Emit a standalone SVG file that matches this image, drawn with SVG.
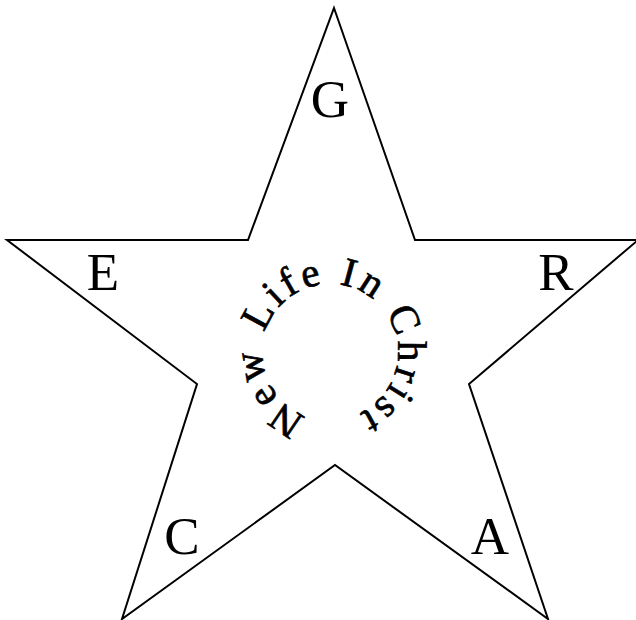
<svg xmlns="http://www.w3.org/2000/svg" width="636" height="620" viewBox="0 0 636 620">
<style>
.star{fill:none;stroke:#000;stroke-width:2;stroke-linejoin:miter}
.lbl{font-family:"Liberation Serif",serif;font-size:53px;fill:#000;text-anchor:middle}
.arc{font-family:"Liberation Serif",serif;font-size:41px;fill:#000;stroke:#000;stroke-width:0.7px;letter-spacing:3.6px}
</style>
<defs>
<path id="ring" d="M 306.7 415.9 A 68 68 0 1 1 353.3 415.9 A 68 68 0 0 1 306.7 415.9"/>
</defs>
<rect width="636" height="620" fill="#fff"/>
<g id="star">
<polygon class="star" points="334,8 415,240 638,240 469,384 548,619 335,465 122,619 197,384 7,240 248,240"/>
</g>
<g id="G"><text class="lbl" x="330" y="117">G</text></g>
<g id="E"><text class="lbl" x="103" y="290">E</text></g>
<g id="R"><text class="lbl" x="556" y="290">R</text></g>
<g id="C"><text class="lbl" x="182" y="554">C</text></g>
<g id="A"><text class="lbl" x="490" y="554">A</text></g>
<g id="motto"><text class="arc"><textPath href="#ring">New Life In Christ</textPath></text></g>
<g id="connectors"></g>
</svg>
